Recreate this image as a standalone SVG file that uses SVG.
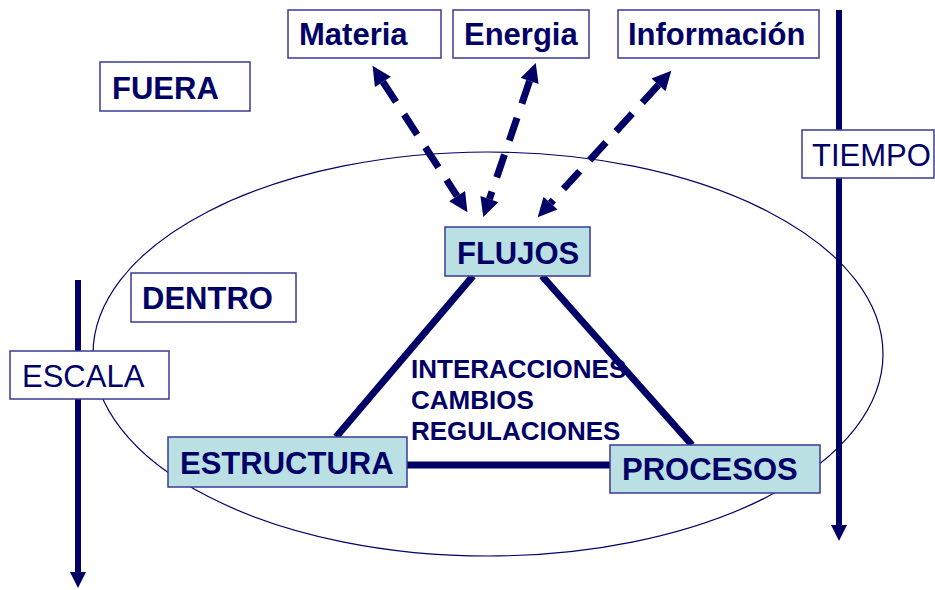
<svg xmlns="http://www.w3.org/2000/svg" width="935" height="590" viewBox="0 0 935 590">
<style>
.box{fill:#fff;stroke:#3a3a96;stroke-width:1.5}
.tbox{fill:#bbe0e4;stroke:#3a3a96;stroke-width:1.5}
.b{font-family:"Liberation Sans",Arial,sans-serif;font-weight:bold;font-size:31px;fill:#000066}
.r{font-family:"Liberation Sans",Arial,sans-serif;font-size:31px;fill:#000066}
.s{font-family:"Liberation Sans",Arial,sans-serif;font-weight:bold;font-size:26px;fill:#000066}
.dash{stroke:#000066;stroke-width:7;stroke-dasharray:24 15;fill:none}
.solid{stroke:#000066;stroke-width:6;fill:none}
.tri{stroke:#000066;stroke-width:7;fill:none}
</style>
<defs>
<marker id="ah" viewBox="0 0 10 10" refX="0" refY="5" markerWidth="20" markerHeight="19" markerUnits="userSpaceOnUse" orient="auto-start-reverse">
<path d="M0,0 L10,5 L0,10 z" fill="#000066"/>
</marker>
<marker id="ah2" viewBox="0 0 10 10" refX="0" refY="5" markerWidth="16" markerHeight="17" markerUnits="userSpaceOnUse" orient="auto">
<path d="M0,0 L10,5 L0,10 z" fill="#000066"/>
</marker>
</defs>
<ellipse cx="488" cy="354" rx="395" ry="202" fill="none" stroke="#000066" stroke-width="1.2"/>
<g id="interacciones">
<text class="s" x="411" y="378">INTERACCIONES</text>
<text class="s" x="411" y="409">CAMBIOS</text>
<text class="s" x="411" y="440">REGULACIONES</text>
</g>
<g id="connectors">
<line class="tri" x1="336" y1="437" x2="473" y2="276"/>
<line class="tri" x1="542" y1="276" x2="692" y2="445"/>
<line class="tri" x1="407" y1="465" x2="610" y2="465"/>
<line class="dash" x1="382.9" y1="81.8" x2="457.1" y2="196.2" marker-start="url(#ah)" marker-end="url(#ah)"/>
<line class="dash" x1="529.6" y1="80.9" x2="489.4" y2="199.1" marker-start="url(#ah)" marker-end="url(#ah)"/>
<line class="dash" x1="658.5" y1="84.8" x2="550.5" y2="203.2" marker-start="url(#ah)" marker-end="url(#ah)"/>
<line class="solid" x1="78" y1="280" x2="78" y2="572" marker-end="url(#ah2)"/>
<line class="solid" x1="839" y1="10" x2="839" y2="525" marker-end="url(#ah2)"/>
</g>
<g id="materia"><rect class="box" x="288" y="10" width="153" height="48"/><text class="b" x="299" y="45">Materia</text></g>
<g id="energia"><rect class="box" x="453" y="10" width="136" height="48"/><text class="b" x="464" y="45">Energia</text></g>
<g id="informacion"><rect class="box" x="618" y="10" width="201" height="48"/><text class="b" x="628" y="45">Información</text></g>
<g id="fuera"><rect class="box" x="100" y="62" width="150" height="49"/><text class="b" x="112" y="99">FUERA</text></g>
<g id="dentro"><rect class="box" x="131" y="273" width="165" height="49"/><text class="b" x="142" y="309">DENTRO</text></g>
<g id="escala"><rect class="box" x="10" y="351" width="159" height="48"/><text class="r" x="22" y="387">ESCALA</text></g>
<g id="tiempo"><rect class="box" x="802" y="130" width="132" height="48"/><text class="r" x="812" y="166">TIEMPO</text></g>
<g id="flujos"><rect class="tbox" x="445" y="227" width="145" height="49"/><text class="b" x="457" y="264">FLUJOS</text></g>
<g id="estructura"><rect class="tbox" x="168" y="437" width="239" height="50"/><text class="b" x="180" y="474">ESTRUCTURA</text></g>
<g id="procesos"><rect class="tbox" x="610" y="445" width="210" height="48"/><text class="b" x="622" y="480">PROCESOS</text></g>
</svg>
